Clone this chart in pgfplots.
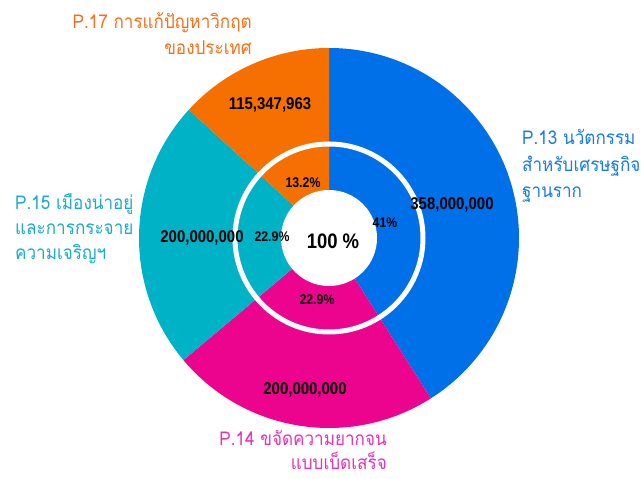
\documentclass[border=0pt]{standalone}
\usepackage{fontspec}
\usepackage{pgfplots}
\pgfplotsset{compat=1.18}
\usepackage{pgfplotstable}
\newfontfamily\thaifont[Script=Thai,FakeStretch=0.9]{Loma}
\newfontfamily\numfont[FakeStretch=0.88]{Liberation Sans}
\definecolor{cBlue}{RGB}{0,112,233}
\definecolor{cPink}{RGB}{236,4,142}
\definecolor{cTeal}{RGB}{0,178,198}
\definecolor{cOrange}{RGB}{245,112,0}
\definecolor{tBlue}{RGB}{24,122,232}
\definecolor{tPink}{RGB}{232,50,184}
\definecolor{tTeal}{RGB}{26,170,204}
\definecolor{tOrange}{RGB}{244,112,24}
% values in millions (THB)
\pgfplotstableread{
name value pct
P13 358.0 41
P14 200.0 22.9
P15 200.0 22.9
P17 115.347963 13.2
}\datatable
\begin{document}
\begin{tikzpicture}
\pgfplotstablegetelem{0}{value}\of\datatable\let\vA\pgfplotsretval
\pgfplotstablegetelem{1}{value}\of\datatable\let\vB\pgfplotsretval
\pgfplotstablegetelem{2}{value}\of\datatable\let\vC\pgfplotsretval
\pgfplotstablegetelem{3}{value}\of\datatable\let\vD\pgfplotsretval
\pgfmathsetmacro\tot{\vA+\vB+\vC+\vD}
\pgfmathsetmacro\aA{90}
\pgfmathsetmacro\aB{\aA-360*(\vA/\tot)}
\pgfmathsetmacro\aC{\aB-360*(\vB/\tot)}
\pgfmathsetmacro\aD{\aC-360*(\vC/\tot)}
\pgfmathsetmacro\aE{\aD-360*(\vD/\tot)}
\begin{axis}[
  scale only axis, width=641pt, height=479pt,
  xmin=-329, xmax=312, ymin=-241, ymax=238,
  hide axis, clip=false]
\path (axis cs:-329,-241) rectangle (axis cs:312,238);
\fill[cBlue] (axis cs:0,0) -- (axis cs:{190*cos(\aA)},{190*sin(\aA)}) arc[start angle=\aA, end angle=\aB, radius=190pt] -- cycle;
\fill[cPink] (axis cs:0,0) -- (axis cs:{190*cos(\aB)},{190*sin(\aB)}) arc[start angle=\aB, end angle=\aC, radius=190pt] -- cycle;
\fill[cTeal] (axis cs:0,0) -- (axis cs:{190*cos(\aC)},{190*sin(\aC)}) arc[start angle=\aC, end angle=\aD, radius=190pt] -- cycle;
\fill[cOrange] (axis cs:0,0) -- (axis cs:{190*cos(\aD)},{190*sin(\aD)}) arc[start angle=\aD, end angle=\aE, radius=190pt] -- cycle;
\draw[white, line width=5pt] (axis cs:0,0) circle[radius=94pt];
\fill[white] (axis cs:0,0) circle[radius=48pt];
% value labels
\begin{scope}[every node/.style={font=\numfont\bfseries\fontsize{17}{17}\selectfont, text=black, inner sep=0pt}]
\node at (axis cs:-59,133) {115,347,963};
\node at (axis cs:123,33) {358,000,000};
\node at (axis cs:-127,0) {200,000,000};
\node at (axis cs:-24,-152) {200,000,000};
\end{scope}
\begin{scope}[every node/.style={font=\numfont\bfseries\fontsize{14}{14}\selectfont, text=black, inner sep=0pt}]
\node at (axis cs:-26,55) {13.2\%};
\node at (axis cs:56,15) {41\%};
\node at (axis cs:-57,1) {22.9\%};
\node at (axis cs:-12,-62) {22.9\%};
\end{scope}
\node[font=\numfont\bfseries\fontsize{21}{21}\selectfont, inner sep=0pt] at (axis cs:4,-3) {100 \%};
% category labels
\begin{scope}[every node/.style={font=\thaifont\fontsize{19}{24}\selectfont, inner sep=0pt}]
\node[anchor=base east, text=tOrange] at (axis cs:-77,209) {P.17 การแก้ปัญหาวิกฤต};
\node[anchor=base east, text=tOrange] at (axis cs:-77,183) {ของประเทศ};
\node[anchor=base west, text=tTeal] at (axis cs:-314,28) {P.15 เมืองน่าอยู่};
\node[anchor=base west, text=tTeal] at (axis cs:-314,3) {และการกระจาย};
\node[anchor=base west, text=tTeal] at (axis cs:-314,-22) {ความเจริญฯ};
\node[anchor=base west, text=tBlue] at (axis cs:193,93) {P.13 นวัตกรรม};
\node[anchor=base west, text=tBlue] at (axis cs:193,66) {สำหรับเศรษฐกิจ};
\node[anchor=base west, text=tBlue] at (axis cs:193,40) {ฐานราก};
\node[anchor=base east, text=tPink] at (axis cs:58,-208) {P.14 ขจัดความยากจน};
\node[anchor=base east, text=tPink] at (axis cs:58,-232) {แบบเบ็ดเสร็จ};
\end{scope}
\end{axis}
\end{tikzpicture}
\end{document}
